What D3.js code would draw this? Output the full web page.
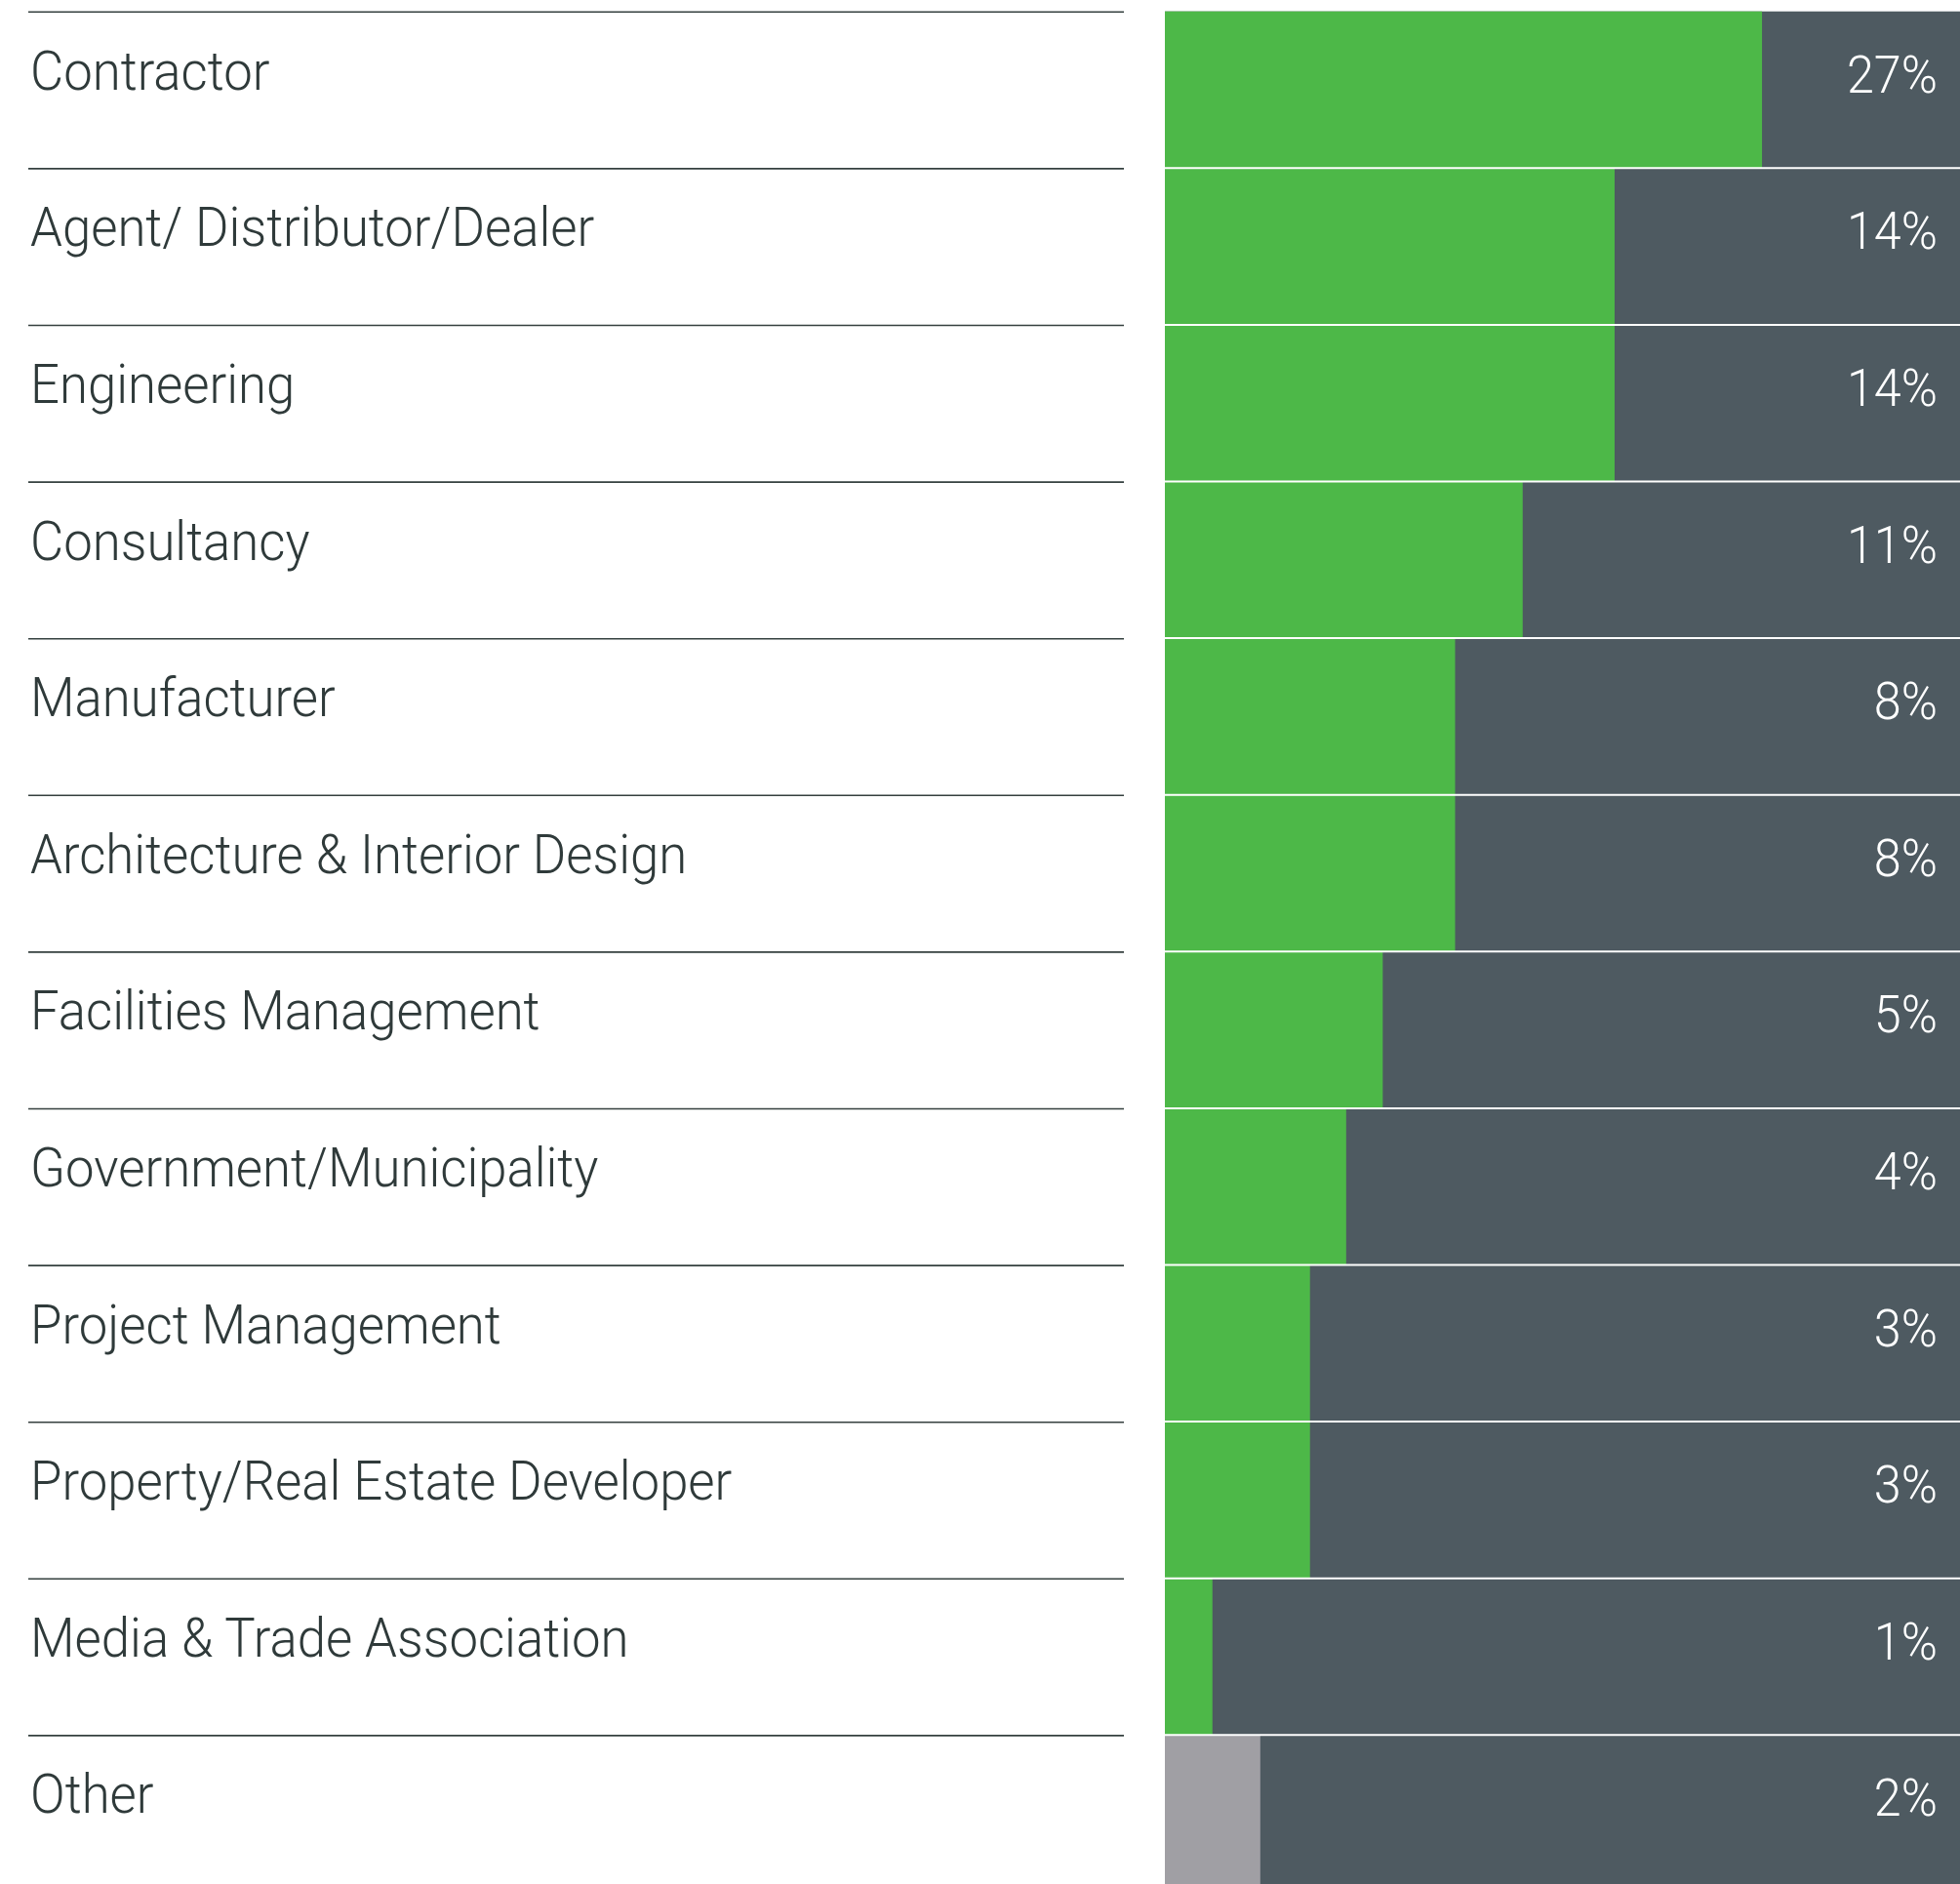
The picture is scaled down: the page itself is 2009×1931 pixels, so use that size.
<!DOCTYPE html>
<html>
<head>
<meta charset="utf-8">
<script src="https://cdn.jsdelivr.net/npm/d3@7"></script>
<style>
  html, body { margin: 0; padding: 0; background: #ffffff; overflow: hidden; }
  svg { display: block; }
</style>
</head>
<body>
<svg id="chart" width="2009" height="1931"></svg>
<script>
// ---- data ----
const categories = [
  "Contractor",
  "Agent/ Distributor/Dealer",
  "Engineering",
  "Consultancy",
  "Manufacturer",
  "Architecture & Interior Design",
  "Facilities Management",
  "Government/Municipality",
  "Project Management",
  "Property/Real Estate Developer",
  "Media & Trade Association",
  "Other"
];
const shares = [27, 14, 14, 11, 8, 8, 5, 4, 3, 3, 1, 2];
const isOther = [false, false, false, false, false, false, false, false, false, false, false, true];
const valueLabels = ["27%", "14%", "14%", "11%", "8%", "8%", "5%", "4%", "3%", "3%", "1%", "2%"];

// The original graphic scales bar lengths non-linearly; knots
const lengthDomain = [0, 1, 2, 3, 4, 5, 8, 11, 14, 27, 100];
const lengthShare  = [0, 0.0598, 0.12, 0.1825, 0.228, 0.274, 0.365, 0.45, 0.5656, 0.751, 1];

// ---- layout ----
const W = 2009, H = 1931;
const svg = d3.select("#chart");

const rowTop = 11.7, rowStep = 160.6;
const y = d3.scaleBand()
  .domain(d3.range(categories.length))
  .range([rowTop, rowTop + rowStep * categories.length])
  .paddingInner(0).paddingOuter(0);

const trackX0 = 1194, trackX1 = W;
const frac = d3.scaleLinear().domain(lengthDomain).range(lengthShare).clamp(true);
const x = d3.scaleLinear().domain([0, 1]).range([trackX0, trackX1]);

const lineX0 = 29, lineX1 = 1152;

const rows = svg.append("g").selectAll("g")
  .data(categories.map((c, i) => ({ c, i, v: shares[i], other: isOther[i], lab: valueLabels[i] })))
  .join("g");

// dark track
rows.append("rect")
  .attr("x", x(0))
  .attr("y", d => y(d.i))
  .attr("width", x(1) - x(0))
  .attr("height", y.bandwidth())
  .attr("fill", "#4e5a61");

// value bar
rows.append("rect")
  .attr("x", x(0))
  .attr("y", d => y(d.i))
  .attr("width", d => x(frac(d.v)) - x(0))
  .attr("height", y.bandwidth())
  .attr("fill", d => d.other ? "#a09fa4" : "#4db848");

// white separators between bar rows
rows.filter(d => d.i > 0).append("line")
  .attr("x1", x(0)).attr("x2", x(1))
  .attr("y1", d => y(d.i)).attr("y2", d => y(d.i))
  .attr("stroke", "#ffffff").attr("stroke-width", 2);

// left rule lines
rows.append("line")
  .attr("x1", lineX0).attr("x2", lineX1)
  .attr("y1", d => y(d.i) + 0.6).attr("y2", d => y(d.i) + 0.6)
  .attr("stroke", "#35403f").attr("stroke-width", 1.6);

// category labels (slightly condensed to match the original face)
rows.append("text")
  .attr("transform", d => `translate(31,${y(d.i) + 80}) scale(0.958,1)`)
  .attr("font-family", "Roboto, 'Open Sans', sans-serif")
  .attr("font-weight", 300)
  .attr("font-size", 55)
  .attr("fill", "#2f3a3a")
  .text(d => d.c);

// value labels
rows.append("text")
  .attr("transform", d => `translate(1986,${y(d.i) + 83}) scale(0.95,1)`)
  .attr("text-anchor", "end")
  .attr("font-family", "Roboto, 'Open Sans', sans-serif")
  .attr("font-weight", 300)
  .attr("font-size", 53)
  .attr("fill", "#ffffff")
  .text(d => d.lab);
</script>
</body>
</html>
